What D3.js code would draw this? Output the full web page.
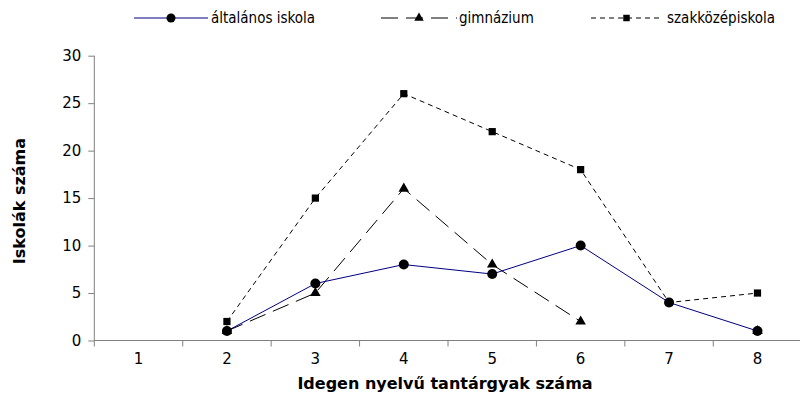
<!DOCTYPE html>
<html><head><meta charset="utf-8">
<script src="https://cdn.jsdelivr.net/npm/d3@7"></script>
<style>
html,body{margin:0;padding:0;background:#fff;}
svg{display:block;}
text{font-family:"DejaVu Sans Condensed","DejaVu Sans",sans-serif;fill:#000;}
.title{font-family:"DejaVu Sans",sans-serif;font-weight:bold;font-size:16px;}
.tick text{font-family:"DejaVu Sans",sans-serif;font-size:15px;}
</style></head>
<body>
<svg id="chart" width="800" height="414"></svg>
<script>
const categories = ["1","2","3","4","5","6","7","8"];
const seriesNames = ["általános iskola","gimnázium","szakközépiskola"];
const altalanos = [null,1,6,8,7,10,4,1];
const gimnazium = [null,1,5,16,8,2,null,1];
const szakkozep = [null,2,15,26,22,18,4,5];
const yTicks = [0,5,10,15,20,25,30];
const yTitle = "Iskolák száma";
const xTitle = "Idegen nyelvű tantárgyak száma";

(function(){
const svg = d3.select("#chart");
const mLeft = 94.3, mRight = 801.7, mTop = 55.7, mBottom = 340.5;
const x = d3.scaleBand().domain(categories).range([mLeft,mRight]);
const y = d3.scaleLinear().domain([0,30]).range([mBottom,mTop]);
const axisColor = "#808080";

// y axis
const yAxis = svg.append("g").attr("transform",`translate(${mLeft},0)`)
  .call(d3.axisLeft(y).tickValues(yTicks).tickSize(6).tickPadding(7));
yAxis.attr("font-family",null).attr("font-size",null);
yAxis.select(".domain").attr("stroke",axisColor).attr("d",`M0,${mTop}V${mBottom+6}`);
yAxis.selectAll(".tick line").attr("stroke",axisColor);

// x axis
const xAxis = svg.append("g").attr("transform",`translate(0,${mBottom})`)
  .call(d3.axisBottom(x).tickSize(0).tickPadding(13));
xAxis.attr("font-family",null).attr("font-size",null);
xAxis.select(".domain").attr("stroke",axisColor).attr("d",`M${mLeft},0H${mRight}`);
const bounds = categories.slice(1).map(c => x(c));
xAxis.selectAll(".sep").data(bounds).enter().append("line")
  .attr("x1",d=>d).attr("x2",d=>d).attr("y1",0).attr("y2",6).attr("stroke",axisColor);

svg.append("text").attr("class","title").attr("transform",`translate(25,${(mTop+mBottom)/2+3}) rotate(-90)`)
  .attr("text-anchor","middle").text(yTitle);
svg.append("text").attr("class","title").attr("x",(mLeft+mRight)/2-3).attr("y",389)
  .attr("text-anchor","middle").text(xTitle);

const cx = c => x(c) + x.bandwidth()/2;
const series = [
  {name:seriesNames[0], values:altalanos, color:"#000080", dash:null, marker:"circle"},
  {name:seriesNames[1], values:gimnazium, color:"#000", dash:"17,8", marker:"triangle"},
  {name:seriesNames[2], values:szakkozep, color:"#000", dash:"5,4", marker:"square"}
];
function drawMarker(g, type, px, py, s){
  if(type==="circle") g.append("circle").attr("cx",px).attr("cy",py).attr("r",5*s).attr("fill","#000");
  else if(type==="triangle") g.append("path").attr("d",d3.symbol(d3.symbolTriangle, 48*s*s)()).attr("transform",`translate(${px},${py})`).attr("fill","#000");
  else g.append("rect").attr("x",px-3.6*s).attr("y",py-3.6*s).attr("width",7.2*s).attr("height",7.2*s).attr("fill","#000");
}
const line = d3.line().defined(d=>d.v!=null).x(d=>cx(d.c)).y(d=>y(d.v));
series.slice().reverse().forEach(s=>{
  const data = categories.map((c,i)=>({c, v:s.values[i]}));
  svg.append("path").datum(data).attr("d",line).attr("fill","none")
    .attr("stroke",s.color).attr("stroke-width",1).attr("stroke-dasharray",s.dash);
});
series.slice().reverse().forEach(s=>{
  const g = svg.append("g");
  categories.forEach((c,i)=>{ if(s.values[i]!=null) drawMarker(g, s.marker, cx(c), y(s.values[i]), 1); });
});

// legend
const legendItems = [
  {x1:134,x2:208,tx:211},
  {x1:381,x2:457,tx:459},
  {x1:591,x2:662,tx:667}
];
series.forEach((s,i)=>{
  const L = legendItems[i];
  const g = svg.append("g");
  g.append("line").attr("x1",L.x1).attr("x2",L.x2).attr("y1",18).attr("y2",18)
    .attr("stroke",s.color).attr("stroke-width",1).attr("stroke-dasharray",s.dash);
  drawMarker(g, s.marker, (L.x1+L.x2)/2, 18, 0.9);
  g.append("text").attr("x",L.tx).attr("y",23).style("font-size","15px").text(s.name);
});
})();
</script>
</body></html>
